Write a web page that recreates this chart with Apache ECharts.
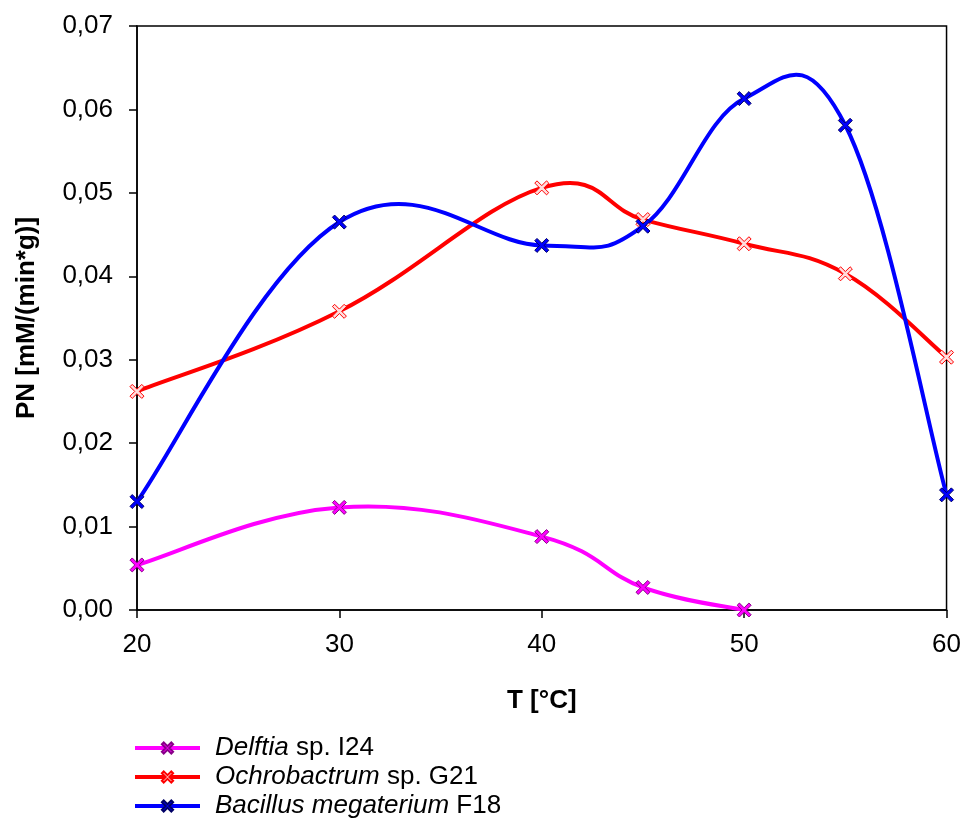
<!DOCTYPE html>
<html><head><meta charset="utf-8">
<script src="https://cdn.jsdelivr.net/npm/echarts@6/dist/echarts.min.js"></script>
<style>html,body{margin:0;padding:0;background:#fff}#c{width:964px;height:830px}</style>
</head><body><div id="c"></div>
<script>
var temps = [20, 30, 40, 45, 50, 55, 60];
var delftia = [0.0054, 0.0123, 0.0088, 0.0027, 0.0000];
var ochrobactrum = [0.0262, 0.0358, 0.0506, 0.0468, 0.0439, 0.0403, 0.0303];
var bacillus = [0.0130, 0.0465, 0.0437, 0.0460, 0.0613, 0.0581, 0.0138];
var seriesNames = ['Delftia sp. I24', 'Ochrobactrum sp. G21', 'Bacillus megaterium F18'];
var xTicks = [20, 30, 40, 50, 60];
var yMax = 0.07;

function pairs(vals){ return vals.map(function(v,i){ return [temps[i], v]; }); }
var X = 'path://M0,1.6 L1.6,0 L5,3.4 L8.4,0 L10,1.6 L6.6,5 L10,8.4 L8.4,10 L5,6.6 L1.6,10 L0,8.4 L3.4,5 Z';
var F = 'Liberation Sans, Arial, sans-serif';
var TENSION = 0.2;

// Smoothed curve (spreadsheet-style Bezier) drawn from data through the axis scales
function curve(name, data, color){
  var pts = pairs(data);
  return {
    name: name + ' (curve)', type: 'custom', data: pts, silent: true, z: 3,
    encode: {x: 0, y: 1},
    renderItem: function(params, api){
      if (params.dataIndex !== 0) return;
      var p = pts.map(function(d){ return api.coord(d); });
      var n = p.length, s = 'M' + p[0][0] + ' ' + p[0][1];
      for (var i = 0; i < n - 1; i++){
        var p0 = p[Math.max(i - 1, 0)], p1 = p[i], p2 = p[i + 1], p3 = p[Math.min(i + 2, n - 1)];
        var c1x = p1[0] + (p2[0] - p0[0]) * TENSION, c1y = p1[1] + (p2[1] - p0[1]) * TENSION;
        var c2x = p2[0] - (p3[0] - p1[0]) * TENSION, c2y = p2[1] - (p3[1] - p1[1]) * TENSION;
        s += ' C' + c1x + ' ' + c1y + ' ' + c2x + ' ' + c2y + ' ' + p2[0] + ' ' + p2[1];
      }
      return {type: 'path', shape: {pathData: s}, style: {stroke: color, lineWidth: 4, fill: 'none', lineJoin: 'round'}};
    }
  };
}

function marks(name, data, color, fill, border){
  return {
    name: name, type: 'line', data: pairs(data), smooth: false,
    symbol: X, symbolSize: 14, showSymbol: true,
    lineStyle: {color: color, width: 4, opacity: 0},
    itemStyle: {color: fill, borderColor: border, borderWidth: 1},
    emphasis: {disabled: true}, z: 4
  };
}

var chart = echarts.init(document.getElementById('c'), null, {renderer: 'canvas'});
chart.setOption({
  animation: false,
  grid: {left: 137, right: 16, top: 26, bottom: 220, show: true, borderColor: '#000', borderWidth: 1.5, containLabel: false},
  xAxis: {
    type: 'value', min: 20, max: 60, interval: 10,
    name: 'T [°C]', nameLocation: 'middle', nameGap: 78,
    nameTextStyle: {fontFamily: F, fontSize: 26, fontWeight: 'bold', color: '#000'},
    axisLine: {show: true, lineStyle: {color: '#000', width: 1.5}},
    axisTick: {show: true, inside: false, length: 8, lineStyle: {color: '#000', width: 1.5}},
    axisLabel: {fontFamily: F, fontSize: 26, color: '#000', margin: 22,
      formatter: function(v){ return xTicks.indexOf(v) >= 0 ? String(v) : ''; }},
    splitLine: {show: false}
  },
  yAxis: {
    type: 'value', min: 0, max: yMax, interval: 0.01,
    name: 'PN [mM/(min*g)]', nameLocation: 'middle', nameGap: 97,
    nameTextStyle: {fontFamily: F, fontSize: 26, fontWeight: 'bold', color: '#000'},
    axisLine: {show: true, lineStyle: {color: '#000', width: 1.5}},
    axisTick: {show: true, inside: false, length: 8, lineStyle: {color: '#000', width: 1.5}},
    axisLabel: {fontFamily: F, fontSize: 26, color: '#000', margin: 24,
      formatter: function(v){ return v.toFixed(2).replace('.', ','); }},
    splitLine: {show: false}
  },
  legend: {
    orient: 'vertical', left: 128, top: 730, itemWidth: 65, itemHeight: 14, itemGap: 3,
    selectedMode: false,
    lineStyle: {width: 4, opacity: 1},
    textStyle: {fontFamily: F, fontSize: 26, lineHeight: 26, color: '#000', padding: [0, 0, 0, 10],
      rich: {i: {fontFamily: F, fontSize: 26, lineHeight: 26, fontStyle: 'italic', color: '#000'}}},
    formatter: function(n){
      var p = n.split(' ');
      if (n.indexOf('Bacillus') === 0) return '{i|' + p[0] + ' ' + p[1] + '} ' + p.slice(2).join(' ');
      return '{i|' + p[0] + '} ' + p.slice(1).join(' ');
    },
    data: seriesNames
  },
  series: [
    curve(seriesNames[0], delftia, '#ff00ff'),
    marks(seriesNames[0], delftia, '#ff00ff', '#ff00ff', '#880088'),
    curve(seriesNames[1], ochrobactrum, '#ff0000'),
    marks(seriesNames[1], ochrobactrum, '#ff0000', '#ffdddd', '#ff0000'),
    curve(seriesNames[2], bacillus, '#0000ff'),
    marks(seriesNames[2], bacillus, '#0000ff', '#0000ff', '#000066')
  ]
});
</script></body></html>
